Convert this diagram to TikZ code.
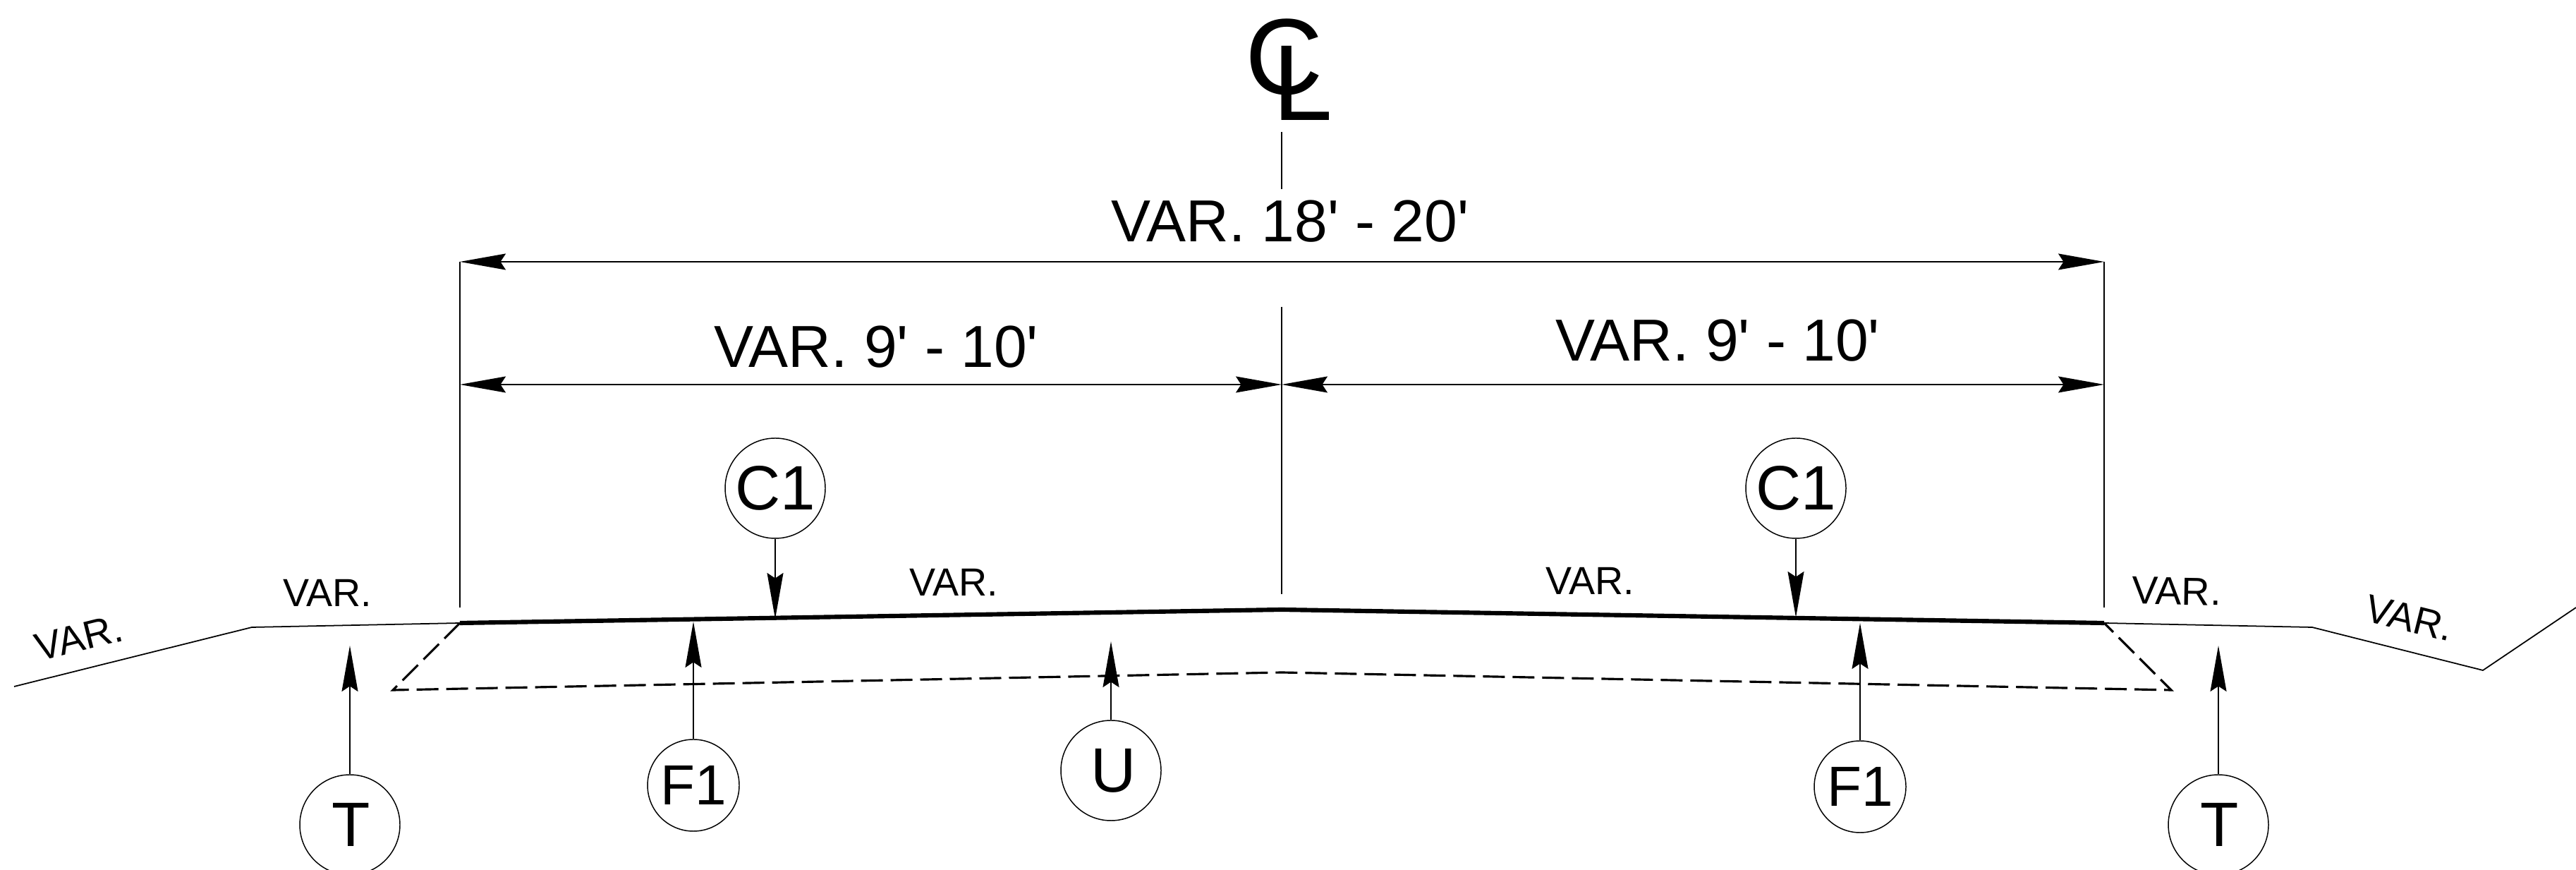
\documentclass[tikz,border=0pt]{standalone}
\usepackage{xcolor}
\usepackage{fontspec}
\usetikzlibrary{arrows.meta}
\setmainfont{Liberation Sans}
\tikzset{
	tip/.style={line width=0.45pt,-{Stealth[length=0.65cm,width=0.23cm,inset=0.075cm]}},
	dimline/.style={line width=0.45pt,{Stealth[length=0.65cm,width=0.23cm,inset=0.075cm]}-{Stealth[length=0.65cm,width=0.23cm,inset=0.075cm]}},
	thinline/.style={line width=0.45pt},
	ground/.style={line width=0.5pt,line join=round},
	pavement/.style={line width=1.75pt},
	subgrade/.style={line width=0.9pt,dash pattern=on 0.31cm off 0.11cm},
	tag/.style={circle,draw,line width=0.42pt,inner sep=0pt,minimum size=1.42cm,font=\fontsize{25.3}{26}\selectfont},
	dimtext/.style={anchor=base,inner sep=0pt,font=\fontsize{23.9}{25}\selectfont},
	vartext/.style={inner sep=0pt,font=\fontsize{15.8}{17}\selectfont}
}
\begin{document}
\begin{tikzpicture}
	\useasboundingbox (0,0) rectangle (36.52,12.33);
	% road surface
	\coordinate (edgeL) at (6.52,3.50);
	\coordinate (crown) at (18.17,3.69);
	\coordinate (edgeR) at (29.83,3.50);
	\coordinate (shoulderL) at (3.57,3.44);
	\coordinate (slopeL) at (0.20,2.60);
	\coordinate (shoulderR) at (32.78,3.44);
	\coordinate (slopeR) at (35.20,2.83);
	\coordinate (backR) at (36.52,3.72);
	\coordinate (baseL) at (5.57,2.55);
	\coordinate (baseC) at (18.17,2.80);
	\coordinate (baseR) at (30.78,2.55);
	\draw [pavement] (edgeL) -- (crown) -- (edgeR);
	\draw [ground] (slopeL) -- (shoulderL) -- (edgeL);
	\draw [ground] (edgeR) -- (shoulderR) -- (slopeR) -- (backR);
	\draw [subgrade] (edgeL) -- (baseL) -- (baseC) -- (baseR) -- (edgeR);
	% center line and witness lines
	\coordinate (clA) at (18.17,10.46);
	\coordinate (clB) at (18.17,9.65);
	\coordinate (clC) at (18.17,7.98);
	\coordinate (clD) at (18.17,3.91);
	\coordinate (witLa) at (6.52,8.62);
	\coordinate (witLb) at (6.52,3.72);
	\coordinate (witRa) at (29.83,8.62);
	\coordinate (witRb) at (29.83,3.72);
	\draw [thinline] (clA) -- (clB);
	\draw [thinline] (clC) -- (clD);
	\draw [thinline] (witLa) -- (witLb);
	\draw [thinline] (witRa) -- (witRb);
	% dimensions
	\coordinate (topL) at (6.52,8.62);
	\coordinate (topR) at (29.83,8.62);
	\coordinate (midL) at (6.52,6.88);
	\coordinate (midC) at (18.17,6.88);
	\coordinate (midR) at (29.83,6.88);
	\draw [dimline] (topL) -- (topR);
	\draw [dimline] (midL) -- (midC);
	\draw [dimline] (midC) -- (midR);
	\node [dimtext] (dimAll) at (18.29,8.90) {VAR. 18\textquotesingle{} - 20\textquotesingle};
	\node [dimtext] (dimLeft) at (12.42,7.125) {VAR. 9\textquotesingle{} - 10\textquotesingle};
	\node [dimtext] (dimRight) at (24.35,7.21) {VAR. 9\textquotesingle{} - 10\textquotesingle};
	% center line mark
	\node [inner sep=0pt,font=\fontsize{43.5}{45}\selectfont] (clC1) at (18.21,11.52) {C};
	\node [inner sep=0pt,font=\fontsize{43.5}{45}\selectfont] (clL1) at (18.47,11.15) {L};
	% slope labels
	\node [vartext,rotate=14] (varA) at (1.12,3.29) {VAR.};
	\node [vartext] (varB) at (4.64,3.93) {VAR.};
	\node [vartext] (varC) at (13.52,4.08) {VAR.};
	\node [vartext] (varD) at (22.54,4.10) {VAR.};
	\node [vartext,rotate=-1] (varE) at (30.86,3.95) {VAR.};
	\node [vartext,rotate=-14] (varF) at (34.16,3.57) {VAR.};
	% tags
	\node [tag] (tagCa) at (10.99,5.41) {C1};
	\node [tag] (tagCb) at (25.46,5.41) {C1};
	\node [tag,minimum size=1.30cm,font=\fontsize{22.8}{24}\selectfont] (tagFa) at (9.83,1.20) {F1};
	\node [tag,minimum size=1.30cm,font=\fontsize{22.8}{24}\selectfont] (tagFb) at (26.37,1.18) {F1};
	\node [tag] (tagU) at (15.75,1.41) {\hspace*{0.08cm}U};
	\node [tag] (tagTa) at (4.96,0.64) {\hspace*{0.04cm}T};
	\node [tag] (tagTb) at (31.45,0.64) {\hspace*{0.04cm}T};
	\coordinate (hitCa) at (10.99,3.56);
	\coordinate (hitCb) at (25.46,3.58);
	\coordinate (hitFa) at (9.83,3.52);
	\coordinate (hitFb) at (26.37,3.50);
	\coordinate (hitU) at (15.75,3.24);
	\coordinate (hitTa) at (4.96,3.18);
	\coordinate (hitTb) at (31.45,3.18);
	\draw [tip] (tagCa) -- (hitCa);
	\draw [tip] (tagCb) -- (hitCb);
	\draw [tip] (tagFa) -- (hitFa);
	\draw [tip] (tagFb) -- (hitFb);
	\draw [tip] (tagU) -- (hitU);
	\draw [tip] (tagTa) -- (hitTa);
	\draw [tip] (tagTb) -- (hitTb);
\end{tikzpicture}
\end{document}
